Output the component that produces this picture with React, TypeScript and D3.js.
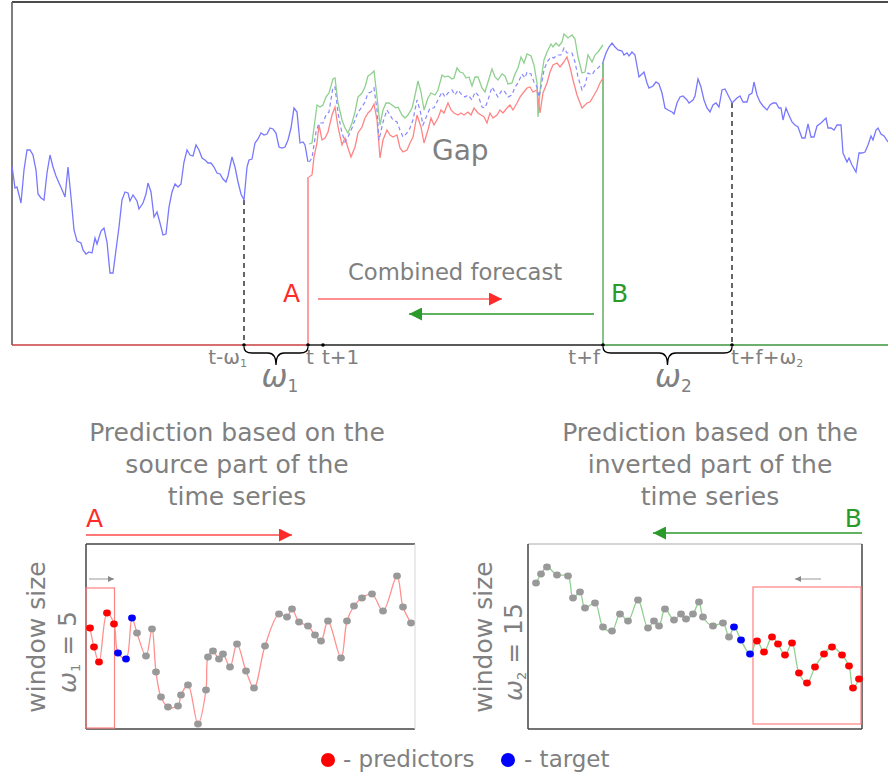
import React from "react";
import * as d3 from "d3";

type P = [number, number];
type Dot = [number, number, "p" | "t" | "o"];

// observed series before the gap: [time step, level]
const seriesBefore: P[] = [
  [0, 179], [3, 157], [5, 158], [9, 142], [12, 175], [15, 195], [18, 195], [21, 190], [24, 175], [26, 151],
  [29, 147], [32, 145], [35, 172], [38, 190], [41, 178], [44, 169], [47, 162], [51, 153], [53, 148], [56, 178],
  [59, 148], [62, 115], [65, 104], [69, 102], [71, 95], [74, 91], [77, 93], [80, 92], [83, 107], [85, 101],
  [89, 114], [92, 117], [95, 103], [98, 72], [101, 72], [104, 95], [107, 118], [110, 145], [113, 153], [116, 152],
  [118, 144], [121, 150], [125, 144], [127, 136], [131, 142], [134, 151], [136, 162], [139, 153], [142, 128], [145, 133],
  [148, 122], [151, 110], [154, 111], [157, 138], [160, 153], [163, 161], [166, 158], [169, 161], [172, 183], [175, 195],
  [178, 190], [181, 189], [184, 200], [187, 195], [190, 187], [193, 185], [196, 182], [199, 182], [202, 178], [205, 172],
  [208, 171], [211, 166], [214, 163], [216, 169], [220, 188], [223, 178], [226, 163], [229, 151], [232, 145], [235, 178],
  [237, 185], [240, 186], [243, 202], [246, 206], [249, 212], [252, 210], [255, 211], [258, 217], [261, 216], [264, 212],
  [267, 198], [270, 197], [273, 198], [276, 205], [279, 217], [282, 237], [285, 233], [288, 202], [291, 203], [293, 200],
  [296, 183],
];

// observed series after the gap
const seriesAfter: P[] = [
  [591, 283], [594, 292], [597, 298], [600, 302], [603, 298], [606, 295], [610, 294], [612, 290], [615, 292], [617, 289],
  [620, 293], [623, 290], [627, 268], [630, 271], [632, 273], [635, 262], [637, 257], [641, 259], [644, 263], [647, 261],
  [650, 252], [653, 237], [656, 235], [660, 233], [662, 231], [665, 242], [668, 248], [671, 249], [675, 245], [677, 242],
  [681, 245], [683, 249], [686, 266], [689, 258], [692, 245], [695, 237], [698, 233], [701, 240], [704, 242], [707, 238],
  [710, 255], [713, 256], [716, 250], [720, 242], [723, 245], [725, 247], [728, 249], [731, 243], [735, 243], [737, 250],
  [740, 252], [742, 263], [745, 250], [748, 243], [751, 239], [755, 235], [758, 240], [761, 242], [764, 242], [767, 237],
  [769, 237], [771, 225], [774, 237], [776, 232], [780, 223], [783, 220], [786, 218], [790, 207], [793, 207], [796, 221],
  [799, 208], [802, 208], [805, 219], [809, 222], [811, 224], [814, 227], [816, 217], [819, 217], [822, 215], [825, 220],
  [829, 220], [831, 192], [835, 183], [837, 187], [840, 180], [844, 173], [847, 192], [850, 192], [853, 193], [856, 200],
  [859, 209], [861, 205], [864, 215], [866, 217], [869, 211], [872, 209], [876, 203],
];

// backward forecast (B) filling the gap
const forecastUpper: P[] = [
  [297, 201], [300, 202], [305, 240], [308, 238], [311, 240], [314, 248], [317, 252], [321, 266], [323, 267], [326, 242],
  [330, 225], [333, 217], [336, 212], [340, 222], [343, 233], [346, 248], [350, 252], [353, 258], [356, 269], [359, 271],
  [362, 274], [365, 248], [368, 220], [371, 235], [374, 242], [377, 242], [380, 240], [384, 237], [386, 238], [390, 230],
  [393, 227], [396, 230], [400, 237], [402, 245], [406, 264], [409, 253], [412, 235], [416, 247], [419, 252], [423, 250],
  [426, 255], [430, 270], [433, 268], [436, 269], [440, 266], [442, 267], [445, 277], [448, 273], [451, 272], [454, 267],
  [457, 268], [460, 259], [463, 268], [466, 268], [470, 257], [473, 253], [476, 263], [480, 276], [483, 268], [486, 265],
  [490, 271], [493, 269], [496, 261], [500, 262], [503, 271], [506, 277], [509, 288], [512, 282], [515, 291], [519, 289],
  [522, 280], [525, 262], [526, 228], [529, 265], [532, 285], [535, 293], [539, 301], [541, 298], [544, 302], [547, 299],
  [550, 303], [552, 311], [556, 307], [560, 310], [563, 306], [566, 288], [570, 272], [573, 273], [576, 290], [580, 283],
  [583, 290], [586, 293], [591, 300],
];

// combined forecast
const forecastMid: P[] = [
  [297, 183], [300, 187], [304, 213], [307, 222], [311, 222], [314, 230], [317, 233], [321, 258], [323, 258], [326, 232],
  [330, 212], [333, 203], [336, 208], [340, 217], [343, 225], [346, 233], [350, 238], [353, 243], [356, 252], [359, 253],
  [362, 257], [365, 235], [367, 205], [371, 223], [375, 235], [378, 230], [381, 225], [385, 223], [388, 215], [391, 208],
  [395, 212], [398, 217], [401, 225], [405, 245], [408, 235], [411, 220], [415, 230], [418, 237], [422, 237], [426, 245],
  [430, 253], [433, 248], [436, 252], [440, 255], [443, 250], [446, 255], [450, 250], [453, 248], [456, 250], [460, 245],
  [463, 253], [466, 250], [470, 238], [473, 237], [476, 245], [480, 258], [483, 253], [486, 248], [490, 255], [493, 253],
  [496, 248], [500, 250], [503, 258], [506, 262], [510, 271], [513, 267], [515, 273], [519, 271], [522, 263], [525, 258],
  [527, 248], [529, 258], [532, 275], [535, 283], [539, 288], [542, 287], [545, 290], [549, 290], [552, 297], [555, 292],
  [560, 292], [563, 283], [566, 268], [570, 255], [573, 260], [576, 272], [580, 270], [583, 275], [586, 277], [591, 282],
];

// forward forecast (A) filling the gap
const forecastLower: P[] = [
  [297, 168], [300, 170], [302, 188], [305, 202], [307, 220], [310, 205], [313, 207], [316, 213], [320, 230], [323, 238],
  [326, 218], [330, 200], [333, 207], [336, 197], [339, 188], [343, 198], [346, 212], [350, 218], [353, 227], [356, 232],
  [359, 235], [362, 241], [365, 225], [368, 187], [371, 205], [375, 215], [378, 210], [381, 208], [385, 210], [388, 197],
  [391, 193], [395, 195], [398, 202], [401, 208], [405, 230], [409, 218], [412, 202], [416, 215], [419, 227], [422, 220],
  [426, 227], [429, 235], [432, 232], [436, 242], [439, 235], [442, 232], [446, 230], [449, 232], [452, 230], [456, 233],
  [459, 230], [462, 237], [466, 232], [469, 230], [472, 228], [475, 222], [478, 232], [481, 227], [485, 230], [488, 235],
  [491, 232], [495, 237], [498, 240], [501, 235], [505, 242], [508, 248], [511, 252], [515, 257], [518, 258], [521, 253],
  [525, 255], [528, 232], [531, 252], [535, 262], [538, 273], [541, 280], [545, 282], [548, 278], [551, 282], [555, 288],
  [558, 278], [561, 265], [565, 250], [570, 237], [575, 242], [578, 243], [581, 248], [585, 255], [588, 262], [591, 267],
];

// axis marks
const tIdx = { tw1: 232, t: 296, t1: 311, tf: 591, tfw2: 720 };

// panel A (source part, window 5)
const panelA: Dot[] = [
  [4, 101, "p"], [8, 82, "p"], [13, 67, "p"], [21, 116, "p"], [28, 105, "p"],
  [32, 76, "t"], [40, 70, "t"], [46, 111, "t"],
  [51, 96, "o"], [60, 73, "o"], [66, 100, "o"], [70, 57, "o"], [75, 32, "o"], [82, 22, "o"], [92, 23, "o"],
  [95, 34, "o"], [102, 44, "o"], [112, 5, "o"], [120, 39, "o"], [122, 72, "o"], [127, 78, "o"], [133, 70, "o"],
  [137, 75, "o"], [144, 62, "o"], [151, 85, "o"], [160, 58, "o"], [168, 41, "o"], [179, 83, "o"], [193, 115, "o"],
  [201, 112, "o"], [206, 120, "o"], [213, 107, "o"], [222, 103, "o"], [229, 94, "o"], [235, 88, "o"], [242, 108, "o"],
  [255, 71, "o"], [261, 108, "o"], [268, 123, "o"], [276, 131, "o"], [286, 135, "o"], [297, 118, "o"], [311, 153, "o"],
  [317, 122, "o"], [325, 106, "o"],
];

// panel B (inverted part, window 15)
const panelB: Dot[] = [
  [8, 146, "o"], [13, 155, "o"], [19, 162, "o"], [29, 154, "o"], [40, 153, "o"], [45, 131, "o"], [52, 137, "o"],
  [57, 121, "o"], [67, 126, "o"], [75, 102, "o"], [84, 98, "o"], [92, 115, "o"], [100, 108, "o"], [110, 129, "o"],
  [120, 101, "o"], [126, 108, "o"], [131, 103, "o"], [137, 120, "o"], [146, 109, "o"], [153, 115, "o"], [158, 110, "o"],
  [165, 115, "o"], [171, 127, "o"], [175, 112, "o"], [185, 103, "o"], [195, 106, "o"], [201, 92, "o"],
  [206, 102, "t"], [213, 89, "t"], [222, 75, "t"],
  [229, 88, "p"], [236, 77, "p"], [244, 92, "p"], [250, 85, "p"], [257, 74, "p"], [264, 86, "p"], [271, 56, "p"],
  [279, 46, "p"], [287, 62, "p"], [296, 75, "p"], [304, 82, "p"], [314, 74, "p"], [321, 63, "p"], [325, 41, "p"],
  [331, 50, "p"],
];

const windowA = { t0: 0, t1: 28.5, v0: 1, v1: 141 };
const windowB = { t0: 225, t1: 333, v0: 5, v1: 142 };

const FONT = "DejaVu Sans, Verdana, sans-serif";
const GRAY = "#808080";
const dotColor = { p: "#ff0000", t: "#0000ff", o: "#999999" };

export default function App() {
  const x = d3.scaleLinear().domain([0, 876]).range([12, 888]);
  const y = d3.scaleLinear().domain([0, 343]).range([345, 2]);
  const line = d3.line<P>().x((d) => x(d[0])).y((d) => y(d[1]));
  const axisY = y(0);

  const xa = d3.scaleLinear().domain([0, 329]).range([86, 415]);
  const xb = d3.scaleLinear().domain([0, 334]).range([528, 862]);
  const yp = d3.scaleLinear().domain([0, 185]).range([729, 544]);
  const lineA = d3.line<Dot>().x((d) => xa(d[0])).y((d) => yp(d[1])).curve(d3.curveCatmullRom.alpha(0.5));
  const lineB = d3.line<Dot>().x((d) => xb(d[0])).y((d) => yp(d[1])).curve(d3.curveCatmullRom.alpha(0.5));

  const brace = (x0: number, x1: number, y0: number) => {
    const m = (x0 + x1) / 2;
    const d = 6;
    return `M${x0},${y0} Q${x0},${y0 + d} ${x0 + 8},${y0 + d} L${m - 8},${y0 + d} Q${m},${y0 + d} ${m},${y0 + d + 12} Q${m},${y0 + d} ${m + 8},${y0 + d} L${x1 - 8},${y0 + d} Q${x1},${y0 + d} ${x1},${y0}`;
  };

  const tickLabel = { fontFamily: FONT, fontSize: 20, fill: GRAY };

  return (
    <svg width={888} height={776} style={{ position: "absolute", left: 0, top: 0, background: "#fff" }}>
      <defs>
        <marker id="hr" viewBox="0 0 10 10" refX="10" refY="5" markerWidth="24" markerHeight="13" markerUnits="userSpaceOnUse" orient="auto">
          <path d="M0,0 L10,5 L0,10 Z" fill="#ff2a2a" />
        </marker>
        <marker id="hg" viewBox="0 0 10 10" refX="10" refY="5" markerWidth="25" markerHeight="13" markerUnits="userSpaceOnUse" orient="auto">
          <path d="M0,0 L10,5 L0,10 Z" fill="#2a9a2a" />
        </marker>
        <marker id="hs" viewBox="0 0 10 10" refX="10" refY="5" markerWidth="7" markerHeight="6" markerUnits="userSpaceOnUse" orient="auto">
          <path d="M0,0 L10,5 L0,10 Z" fill="#888" />
        </marker>
      </defs>

      {/* top chart frame */}
      <line x1={12} x2={888} y1={2} y2={2} stroke="#111" strokeWidth={1.3} />
      <line x1={12} x2={12} y1={2} y2={axisY} stroke="#555" strokeWidth={1.5} />

      {/* gap boundaries */}
      <line x1={x(tIdx.t)} x2={x(tIdx.t)} y1={y(forecastLower[0][1])} y2={axisY} stroke="#ff8080" strokeWidth={1.5} />
      <line x1={x(tIdx.tf)} x2={x(tIdx.tf)} y1={y(seriesAfter[0][1])} y2={axisY} stroke="#3c963c" strokeWidth={1.2} />
      <line x1={x(tIdx.tw1)} x2={x(tIdx.tw1)} y1={y(145)} y2={axisY} stroke="#000" strokeWidth={1.2} strokeDasharray="5,4" />
      <line x1={x(tIdx.tfw2)} x2={x(tIdx.tfw2)} y1={y(242)} y2={axisY} stroke="#000" strokeWidth={1.2} strokeDasharray="5,4" />

      {/* series */}
      <path d={line(seriesBefore) ?? ""} fill="none" stroke="#7878ff" strokeWidth={1.3} />
      <path d={line(seriesAfter) ?? ""} fill="none" stroke="#7878ff" strokeWidth={1.3} />
      <path d={line(forecastUpper) ?? ""} fill="none" stroke="#8fd08f" strokeWidth={1.3} />
      <path d={line(forecastLower) ?? ""} fill="none" stroke="#ff8585" strokeWidth={1.3} />
      <path d={line(forecastMid) ?? ""} fill="none" stroke="#8888ff" strokeWidth={1.2} strokeDasharray="4,3" />

      {/* axis */}
      <line x1={12} x2={x(tIdx.t)} y1={axisY} y2={axisY} stroke="#c84040" strokeWidth={1.5} />
      <line x1={x(tIdx.t)} x2={x(tIdx.tf)} y1={axisY} y2={axisY} stroke="#222" strokeWidth={1.3} />
      <line x1={x(tIdx.tf)} x2={888} y1={axisY} y2={axisY} stroke="#3c963c" strokeWidth={1.5} />
      {Object.values(tIdx).map((t) => (
        <circle key={t} cx={x(t)} cy={axisY} r={1.8} fill="#000" />
      ))}

      {/* tick labels */}
      <text x={x(tIdx.tw1) + 3} y={364} textAnchor="end" {...tickLabel}>
        t-ω<tspan fontSize={11} dy={3}>1</tspan>
      </text>
      <text x={x(tIdx.t) - 2} y={364} {...tickLabel}>t</text>
      <text x={x(tIdx.t1) - 1} y={364} {...tickLabel}>t+1</text>
      <text x={x(tIdx.tf) - 3} y={364} textAnchor="end" {...tickLabel}>t+f</text>
      <text x={x(tIdx.tfw2) - 1} y={364} {...tickLabel}>
        t+f+ω<tspan fontSize={11} dy={3}>2</tspan>
      </text>

      {/* braces */}
      <path d={brace(x(tIdx.tw1), x(tIdx.t), axisY + 2)} fill="none" stroke="#000" strokeWidth={1.3} />
      <path d={brace(x(tIdx.tf), x(tIdx.tfw2), axisY + 2)} fill="none" stroke="#000" strokeWidth={1.3} />
      <text x={(x(tIdx.tw1) + x(tIdx.t)) / 2 + 4} y={387} textAnchor="middle" fontFamily={FONT} fontStyle="italic" fontSize={31} fill={GRAY}>
        ω<tspan fontSize={17} fontStyle="normal" dy={5}>1</tspan>
      </text>
      <text x={(x(tIdx.tf) + x(tIdx.tfw2)) / 2 + 6} y={387} textAnchor="middle" fontFamily={FONT} fontStyle="italic" fontSize={31} fill={GRAY}>
        ω<tspan fontSize={17} fontStyle="normal" dy={5}>2</tspan>
      </text>

      {/* in-chart annotations */}
      <text x={432} y={160} fontFamily={FONT} fontSize={28} fill={GRAY}>Gap</text>
      <text x={348} y={280} fontFamily={FONT} fontSize={22.7} fill={GRAY}>Combined forecast</text>
      <text x={283} y={302} fontFamily={FONT} fontSize={25} fill="#ff2a2a">A</text>
      <text x={611} y={302} fontFamily={FONT} fontSize={25} fill="#2a9a2a">B</text>
      <line x1={318} x2={502} y1={299} y2={299} stroke="#ff6a6a" strokeWidth={1.5} markerEnd="url(#hr)" />
      <line x1={594} x2={409} y1={314} y2={314} stroke="#2a9a2a" strokeWidth={1.5} markerEnd="url(#hg)" />

      {/* panel titles */}
      {[
        { cx: 237, lines: ["Prediction based on the", "source part of the", "time series"] },
        { cx: 710, lines: ["Prediction based on the", "inverted part of the", "time series"] },
      ].map((g, gi) => (
        <text key={gi} textAnchor="middle" fontFamily={FONT} fontSize={25} fill={GRAY}>
          {g.lines.map((l, i) => (
            <tspan key={i} x={g.cx} y={441 + i * 32}>{l}</tspan>
          ))}
        </text>
      ))}

      {/* direction arrows above panels */}
      <text x={86} y={527} fontFamily={FONT} fontSize={25} fill="#ff2a2a">A</text>
      <line x1={86} x2={292} y1={535} y2={535} stroke="#ff4a4a" strokeWidth={1.5} markerEnd="url(#hr)" />
      <text x={862} y={527} textAnchor="end" fontFamily={FONT} fontSize={25} fill="#2a9a2a">B</text>
      <line x1={862} x2={653} y1={533} y2={533} stroke="#2a9a2a" strokeWidth={1.5} markerEnd="url(#hg)" />

      {/* panel A */}
      <g>
        <line x1={86} x2={415} y1={544} y2={544} stroke="#444" strokeWidth={1.5} />
        <line x1={86} x2={415} y1={729} y2={729} stroke="#444" strokeWidth={1.5} />
        <line x1={86} x2={86} y1={544} y2={729} stroke="#444" strokeWidth={1.5} />
        <line x1={415} x2={415} y1={544} y2={729} stroke="#ddd" strokeWidth={1.2} />
        <rect x={xa(windowA.t0)} y={yp(windowA.v1)} width={xa(windowA.t1) - xa(windowA.t0)} height={yp(windowA.v0) - yp(windowA.v1)} fill="none" stroke="#ff8080" strokeWidth={1.2} />
        <line x1={89} x2={114} y1={579} y2={579} stroke="#999" strokeWidth={1} markerEnd="url(#hs)" />
        <path d={lineA(panelA) ?? ""} fill="none" stroke="#ff9090" strokeWidth={1.3} />
        {panelA.map((d, i) => (
          <ellipse key={i} cx={xa(d[0])} cy={yp(d[1])} rx={3.9} ry={3.4} fill={dotColor[d[2]]} />
        ))}
        <text transform="translate(45,637) rotate(-90)" textAnchor="middle" fontFamily={FONT} fontSize={25} fill={GRAY}>window size</text>
        <text transform="translate(76,652) rotate(-90)" textAnchor="middle" fontFamily={FONT} fontSize={25} fill={GRAY}>
          <tspan fontStyle="italic">ω</tspan><tspan fontSize={13} dy={4}>1</tspan><tspan dy={-4}> = 5</tspan>
        </text>
      </g>

      {/* panel B */}
      <g>
        <line x1={528} x2={862} y1={544} y2={544} stroke="#aaa" strokeWidth={1.2} />
        <line x1={528} x2={862} y1={729} y2={729} stroke="#444" strokeWidth={1.5} />
        <line x1={528} x2={528} y1={544} y2={729} stroke="#444" strokeWidth={1.5} />
        <line x1={862} x2={862} y1={544} y2={729} stroke="#444" strokeWidth={1.5} />
        <rect x={xb(windowB.t0)} y={yp(windowB.v1)} width={xb(windowB.t1) - xb(windowB.t0)} height={yp(windowB.v0) - yp(windowB.v1)} fill="none" stroke="#ff8080" strokeWidth={1.2} />
        <line x1={821} x2={795} y1={579} y2={579} stroke="#999" strokeWidth={1} markerEnd="url(#hs)" />
        <path d={lineB(panelB) ?? ""} fill="none" stroke="#90d090" strokeWidth={1.3} />
        {panelB.map((d, i) => (
          <ellipse key={i} cx={xb(d[0])} cy={yp(d[1])} rx={3.9} ry={3.4} fill={dotColor[d[2]]} />
        ))}
        <text transform="translate(492,637) rotate(-90)" textAnchor="middle" fontFamily={FONT} fontSize={25} fill={GRAY}>window size</text>
        <text transform="translate(522,652) rotate(-90)" textAnchor="middle" fontFamily={FONT} fontSize={25} fill={GRAY}>
          <tspan fontStyle="italic">ω</tspan><tspan fontSize={13} dy={4}>2</tspan><tspan dy={-4}> = 15</tspan>
        </text>
      </g>

      {/* legend */}
      <circle cx={328} cy={760} r={7} fill={dotColor.p} />
      <text x={343} y={767} fontFamily={FONT} fontSize={23} fill={GRAY}>- predictors</text>
      <circle cx={508} cy={760} r={7} fill={dotColor.t} />
      <text x={524} y={767} fontFamily={FONT} fontSize={23} fill={GRAY}>- target</text>
    </svg>
  );
}
